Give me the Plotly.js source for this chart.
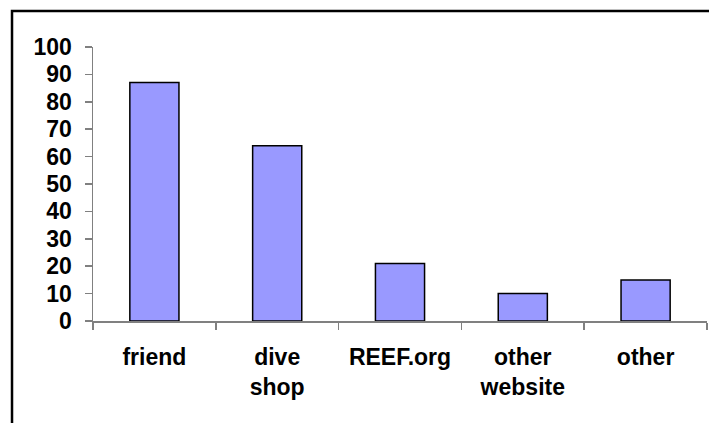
<!DOCTYPE html>
<html>
<head>
<meta charset="utf-8">
<script src="https://cdn.plot.ly/plotly-3.0.1.min.js"></script>
<style>html,body{margin:0;padding:0;background:#fff;}#chart{width:709px;height:423px;}</style>
</head>
<body>
<div id="chart"></div>
<script>
const categories = ["friend", "dive<br>shop", "REEF.org", "other<br>website", "other"];
const values = [87, 64, 21, 10, 15];
const yTicks = [0, 10, 20, 30, 40, 50, 60, 70, 80, 90, 100];

const trace = {
  type: "bar",
  x: categories,
  y: values,
  width: 0.4,
  marker: {color: "#9999FF", line: {color: "#000000", width: 1.5}},
  hoverinfo: "skip"
};

const font = {family: "Liberation Sans, Arial, sans-serif", size: 23, color: "#000000"};

const layout = {
  width: 709,
  height: 423,
  margin: {l: 93, r: 2, t: 47, b: 102},
  paper_bgcolor: "#ffffff",
  plot_bgcolor: "#ffffff",
  showlegend: false,
  bargap: 0.6,
  font: font,
  xaxis: {
    type: "category",
    tickson: "boundaries",
    ticks: "outside",
    ticklen: 7,
    tickwidth: 1.5,
    tickcolor: "#808080",
    showline: true,
    linecolor: "#808080",
    linewidth: 1.5,
    showgrid: false,
    zeroline: false,
    tickfont: {family: font.family, size: 23, color: "#000000", weight: "bold"},
    ticklabelstandoff: 15
  },
  yaxis: {
    range: [0, 100],
    tickvals: yTicks,
    ticktext: yTicks.map(String),
    ticks: "outside",
    ticklen: 7,
    tickwidth: 1.5,
    tickcolor: "#808080",
    showline: true,
    linecolor: "#808080",
    linewidth: 1.5,
    showgrid: false,
    zeroline: false,
    tickfont: {family: font.family, size: 23, color: "#000000", weight: "bold"},
    ticklabelstandoff: 8
  },
  shapes: [{
    type: "rect",
    xref: "paper", yref: "paper",
    x0: -0.1319, x1: 1.01, y0: -0.5, y1: 1.1314,
    line: {color: "#000000", width: 2.5},
    fillcolor: "rgba(0,0,0,0)"
  }]
};

Plotly.newPlot("chart", [trace], layout, {displayModeBar: false, staticPlot: true});
</script>
</body>
</html>
